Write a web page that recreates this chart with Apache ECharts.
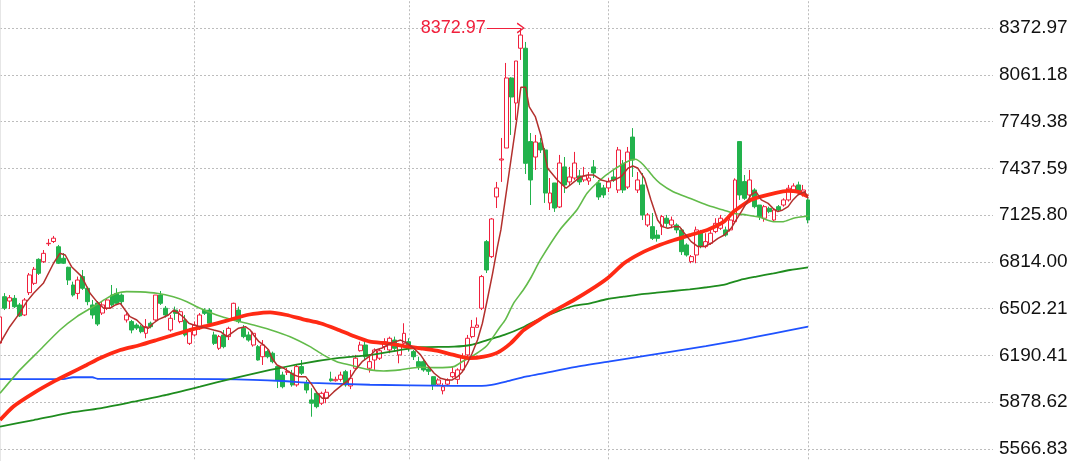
<!DOCTYPE html>
<html>
<head>
<meta charset="utf-8">
<script src="https://cdn.jsdelivr.net/npm/echarts@6/dist/echarts.min.js"></script>
<style>
html,body{margin:0;padding:0;background:#fff;}
#chart{width:1080px;height:461px;}
</style>
</head>
<body>
<div id="chart"></div>
<script>
// ---- data ----
const totalSlots = 205; // visible category slots (data + empty space on the right)
const categories = Array.from({length: totalSlots}, (_, i) => 'D' + (i + 1));

const openVals = [6273,6582,6553,6571,6527,6460,6609,6671,6831,6815,6935,6950,6915,6838,6778,6660,6604,6716,6638,6527,
6540,6473,6505,6593,6604,6593,6427,6416,6393,6382,6338,6405,6427,6593,6505,6360,6493,6416,6427,6271,
6327,6382,6493,6493,6327,6238,6327,6316,6438,6493,6371,6327,6260,6249,6182,6216,6205,6116,6060,6078,
6072,5994,6116,6005,5894,5938,5872,5905,6034,6022,6031,6082,5987,6105,6222,6260,6105,6160,6172,6249,
6227,6293,6194,6271,6282,6216,6149,6149,6100,6049,5999,5955,5999,6049,6031,6094,6194,6316,6378,6505,
6949,6849,7247,7493,7573,8040,7873,8238,8238,7616,7513,7607,7560,7207,7340,7180,7447,7347,7373,7387,
7360,7353,7447,7340,7307,7307,7380,7293,7467,7313,7646,7293,7327,7060,7049,6993,7049,7105,7060,7060,
7027,6927,6816,6860,7016,6916,6938,7016,7038,7027,7027,7082,7616,7349,7260,7293,7193,7105,7171,7093,
7182,7193,7227,7293,7327,7260,7227];
const closeVals = [6447,6505,6575,6515,6454,6560,6727,6765,6738,6871,6938,6972,6805,6805,6693,6593,6693,6638,6549,6460,
6400,6527,6560,6527,6538,6549,6460,6360,6373,6349,6382,6382,6593,6538,6460,6438,6471,6482,6327,6349,
6393,6460,6471,6405,6271,6316,6249,6371,6538,6416,6316,6293,6338,6160,6260,6182,6149,6027,5982,6085,
5994,6116,6072,5960,5872,5849,5938,5945,6022,6031,6060,5994,6038,6172,6260,6182,6149,6227,6222,6282,
6305,6238,6260,6338,6238,6182,6116,6094,6085,5994,6027,5982,6027,6076,6094,6182,6305,6378,6393,6716,
6760,7100,7307,7500,8040,7913,8153,8326,7471,7360,7613,7560,7273,7273,7173,7473,7327,7380,7473,7347,
7387,7373,7407,7247,7260,7347,7360,7560,7293,7546,7493,7360,7127,7127,6971,6971,7116,7071,7093,7027,
6882,6860,6849,7027,6916,6949,7005,7071,7105,6993,7093,7360,7260,7238,7360,7182,7116,7182,7149,7160,
7160,7227,7305,7320,7282,7293,7093];
const lowVals = [6240,6493,6500,6507,6447,6453,6593,6660,6727,6807,6920,6940,6800,6800,6660,6582,6565,6627,6525,6435,
6387,6460,6493,6516,6527,6527,6410,6338,6360,6338,6305,6371,6416,6527,6443,6349,6427,6405,6316,6260,
6316,6360,6460,6393,6260,6227,6238,6293,6427,6405,6305,6282,6249,6156,6127,6171,6138,5973,5971,6060,
5982,5982,6060,5938,5782,5838,5860,5872,6016,6016,6016,5982,5966,6094,6216,6160,6076,6094,6160,6227,
6205,6216,6138,6260,6216,6160,6094,6082,6060,5960,5986,5931,5986,6038,5999,6082,6182,6305,6378,6493,
6740,6840,7173,7347,7573,7660,7760,8160,7400,7193,7427,7540,7207,7160,7147,7173,7273,7327,7360,7327,
7347,7327,7373,7227,7240,7280,7347,7273,7273,7300,7380,7273,7093,7047,6960,6949,6993,7047,7038,7005,
6860,6849,6805,6805,6905,6905,6927,7005,7027,6982,7016,7071,7227,7227,7238,7171,7093,7082,7138,7082,
7149,7182,7216,7282,7271,7249,7071];
const highVals = [6460,6606,6593,6593,6540,6573,6740,6780,6838,6893,6967,6987,6927,6873,6782,6682,6716,6760,6649,6560,
6553,6553,6573,6660,6638,6604,6473,6427,6405,6393,6433,6416,6593,6620,6520,6460,6516,6498,6460,6371,
6416,6473,6505,6505,6349,6327,6360,6382,6542,6516,6393,6349,6349,6260,6293,6227,6216,6127,6082,6107,
6094,6127,6160,6027,5972,5949,5949,5966,6082,6049,6082,6094,6094,6194,6282,6282,6182,6238,6238,6305,
6316,6316,6271,6405,6305,6227,6182,6160,6120,6051,6038,6005,6038,6116,6105,6205,6327,6427,6444,6727,
6960,7106,7347,7640,8140,8045,8153,8372.97,8280,7673,7660,7640,7573,7373,7340,7527,7513,7447,7547,7427,
7447,7413,7493,7360,7327,7373,7427,7580,7493,7580,7706,7413,7406,7140,7140,7027,7127,7127,7116,7071,
7038,6938,6860,7049,7027,7005,7038,7105,7127,7049,7116,7371,7616,7393,7427,7305,7193,7193,7182,7171,
7193,7238,7327,7338,7349,7327,7238];

// moving-average lines: [slot position, value]
const ma5 = [[0,6271],[2,6382],[4,6471],[5.5,6549],[6.9,6605],[8.9,6671],[11,6805],[12.3,6871],[13.4,6860],[14.7,6782],
[16.8,6716],[18.5,6605],[19.9,6549],[21.3,6505],[22.6,6505],[23.7,6527],[24.7,6538],[25.7,6493],[26.7,6449],[28.1,6427],
[29.5,6382],[30.5,6372],[31.5,6405],[32.6,6431],[33.6,6445],[34.6,6460],[35.7,6493],[36.7,6471],[37.7,6445],[38.8,6405],
[39.8,6393],[41.2,6382],[42.5,6372],[43.9,6360],[45.3,6349],[46.6,6316],[48,6349],[49,6372],[50.4,6382],[51.4,6360],
[52.1,6327],[53.2,6282],[54.2,6260],[55.2,6227],[55.9,6172],[56.9,6127],[58.3,6105],[59.3,6082],[60.4,6060],[61.4,6049],
[62.8,6049],[64.1,5994],[65.2,5938],[66.2,5905],[67.2,5905],[68.6,5949],[70.3,5994],[71.7,6027],[73,6094],[74.4,6149],
[75.8,6182],[77.2,6227],[78.5,6240],[80.2,6271],[82.3,6293],[83.7,6271],[85,6238],[86.4,6194],[87.8,6127],[89.2,6072],
[90.5,6038],[91.9,6027],[92.9,6027],[94,6049],[95,6082],[96,6138],[97,6205],[98.1,6293],[99.1,6405],[100.1,6560],
[101.2,6738],[102.2,6916],[102.9,7027],[106.3,7793],[107,7978],[108,7978],[108.7,7849],[110,7780],[111.1,7660],[112.5,7438],
[114.5,7360],[116.3,7305],[118,7349],[119.3,7382],[120.7,7393],[122,7393],[123.5,7360],[124.8,7349],[126.2,7360],[127.6,7382],
[129,7438],[130,7453],[131,7440],[132.4,7371],[133.7,7230],[135.1,7093],[136.1,7049],[137.2,7038],[138.5,7049],[139.6,7049],
[140.6,7005],[142,6949],[143.4,6916],[144.7,6916],[146.1,6938],[147.5,6971],[148.8,6993],[150.2,7038],[151.2,7093],[152.3,7149],
[153.3,7204],[154.3,7260],[155.3,7282],[156.4,7227],[157.8,7204],[158.8,7171],[159.8,7149],[160.8,7160],[161.9,7182],[162.9,7227],
[163.9,7260],[165.3,7282],[166,7238]];
const ma20 = [[0,5938],[4.1,6094],[8.2,6227],[12.3,6360],[15.8,6449],[19.2,6516],[21.9,6571],[24,6605],[26,6616],[28.8,6614],
[32.2,6605],[35.6,6582],[38.4,6549],[41.1,6505],[44.5,6460],[47.9,6427],[52.1,6393],[55.5,6362],[59.6,6315],[63.7,6249],
[66.4,6194],[69.2,6149],[71.9,6127],[76,6094],[78.8,6087],[82.2,6094],[84.3,6105],[87,6112],[89.7,6109],[93.2,6116],
[95,6150],[97.5,6195],[100,6255],[102.5,6370],[103.8,6427],[105.5,6538],[107.5,6627],[109,6705],[111,6827],[115,7027],
[118.5,7160],[120.6,7271],[123.3,7360],[126,7427],[128.8,7482],[130.5,7498],[132.2,7460],[134.2,7382],[135.6,7338],[138.3,7282],
[141.7,7238],[145.2,7193],[148.6,7160],[150.6,7138],[153.4,7127],[156.1,7111],[158.9,7082],[160.9,7082],[163,7105],[166,7120]];
const ma60 = [[0,5760],[2.7,5849],[6.8,5938],[11,6016],[14.4,6072],[17.8,6127],[20.5,6172],[24.7,6227],[28.8,6260],[32.2,6293],
[35.6,6327],[39,6360],[42.5,6387],[46.6,6422],[50.7,6460],[54.1,6476],[55.5,6478],[58.9,6460],[62.3,6431],[65.8,6405],
[69.2,6365],[72.6,6320],[76,6282],[79.5,6271],[83,6253],[86.4,6238],[89.7,6222],[93.2,6194],[96.6,6172],[99.4,6182],
[102.2,6209],[104.9,6271],[107.6,6360],[111.1,6435],[114.4,6498],[117.9,6560],[121.3,6627],[124.8,6705],[128.2,6805],[131.6,6871],
[135,6920],[138.5,6960],[142,6995],[145.3,7027],[148.7,7082],[150.7,7149],[152.1,7182],[154.2,7227],[156.3,7249],[159,7271],
[161.8,7287],[163.8,7282],[166,7249]];
const ma120 = [[0,5716],[6.9,5760],[13.7,5805],[20.5,5838],[27.4,5882],[34.2,5927],[41.1,5982],[47.9,6038],[55.5,6094],[62.4,6138],
[69.3,6172],[76.1,6194],[83,6231],[86.4,6245],[93.3,6249],[96.7,6260],[100.1,6293],[103.6,6327],[107.7,6382],[111.1,6438],
[114.4,6482],[117.8,6520],[121.2,6538],[124.6,6565],[128.1,6582],[131.5,6598],[134.9,6609],[138.3,6620],[141.7,6631],[145.2,6645],
[148.6,6660],[152,6693],[155.4,6716],[158.9,6738],[162.3,6760],[166,6778]];
const ma250 = [[0,6033],[13,6033],[15,6045],[19,6045],[20,6035],[45,6033],[52,6028],[58,6020],[64,6008],[76,5995],
[93,5988],[99,5988],[101,5995],[104,6016],[108,6049],[111,6067],[118,6112],[125,6149],[131.5,6182],[138,6216],
[145,6253],[152,6293],[159,6338],[166,6382]];

const yTickLabels = ['5566.83','5878.62','6190.41','6502.21','6814.00','7125.80','7437.59','7749.38','8061.18','8372.97'];
const gridTickIdx = [40, 84, 125, 166];

// ---- derived ----
const candleData = openVals.map((o, i) => [o, closeVals[i], lowVals[i], highVals[i]]);
const yLow = parseFloat(yTickLabels[0]);
const yHigh = parseFloat(yTickLabels[yTickLabels.length - 1]);
const yStep = (yHigh - yLow) / (yTickLabels.length - 1);
let maxIdx = 0;
highVals.forEach((h, i) => { if (h > highVals[maxIdx]) maxIdx = i; });
const maxHigh = highVals[maxIdx];

const RED = '#f0203c';
const GREEN = '#22b24c';
const chevron = 'path://M0,10 L5,0 L10,10 L8.6,10.8 L5,2.8 L1.4,10.8 Z';

const chart = echarts.init(document.getElementById('chart'), null, {renderer: 'canvas'});
const pxPerStep = 421 / 9;
chart.setOption({
  animation: false,
  backgroundColor: '#ffffff',
  grid: {left: 0, right: 87, top: 28 - pxPerStep, bottom: 461 - (449 + pxPerStep),
    containLabel: false, outerBoundsMode: 'none'},
  xAxis: [{
    type: 'category', data: categories, boundaryGap: false,
    axisLine: {show: false}, axisTick: {show: false}, axisLabel: {show: false},
    splitLine: {show: true, interval: (idx) => gridTickIdx.includes(idx),
      lineStyle: {color: '#bdbdbd', type: [2, 2], width: 1}}
  }, {
    type: 'value', min: 0, max: totalSlots - 1, show: false
  }],
  yAxis: {
    type: 'value', position: 'right', scale: true,
    min: yLow - yStep, max: yHigh + yStep, interval: yStep,
    axisLine: {show: true, lineStyle: {color: '#dedede', width: 1.5}},
    axisTick: {show: false},
    axisLabel: {
      margin: 6, color: '#111', fontSize: 19, fontFamily: '"Liberation Sans", Arial, sans-serif',
      formatter: (v) => {
        const k = Math.round((v - yLow) / yStep);
        return (k >= 0 && k < yTickLabels.length) ? yTickLabels[k] : '';
      }
    },
    splitLine: {show: true, lineStyle: {color: '#bdbdbd', type: [2, 2], width: 1}}
  },
  series: [
    {
      type: 'candlestick', xAxisIndex: 0, data: candleData, barWidth: 4.4,
      itemStyle: {color: '#ffffff', color0: GREEN, borderColor: RED, borderColor0: GREEN, borderWidth: 1},
      emphasis: {disabled: true},
      markLine: {
        silent: true, animation: false,
        symbol: ['none', chevron], symbolSize: [11, 8],
        lineStyle: {color: RED, width: 1.2, type: 'solid'},
        label: {show: true, position: 'start', distance: 1, color: RED, fontSize: 18,
          fontFamily: '"Liberation Sans", Arial, sans-serif', formatter: maxHigh.toFixed(2)},
        emphasis: {disabled: true},
        data: [[{coord: [maxIdx - 7, maxHigh]}, {coord: [maxIdx, maxHigh]}]]
      }
    },
    {type: 'line', xAxisIndex: 1, data: ma250, symbol: 'none', smooth: 0.2, lineStyle: {color: '#1f52ff', width: 1.8}, silent: true},
    {type: 'line', xAxisIndex: 1, data: ma120, symbol: 'none', smooth: 0.2, lineStyle: {color: '#1e8c1e', width: 1.8}, silent: true},
    {type: 'line', xAxisIndex: 1, data: ma20, symbol: 'none', smooth: 0.2, lineStyle: {color: '#62bb4a', width: 1.6}, silent: true},
    {type: 'line', xAxisIndex: 1, data: ma60, symbol: 'none', smooth: 0.2, lineStyle: {color: '#ff2a14', width: 3.8}, silent: true},
    {type: 'line', xAxisIndex: 1, data: ma5, symbol: 'none', smooth: false, lineStyle: {color: '#b3302d', width: 1.5}, silent: true}
  ]
});
</script>
</body>
</html>
